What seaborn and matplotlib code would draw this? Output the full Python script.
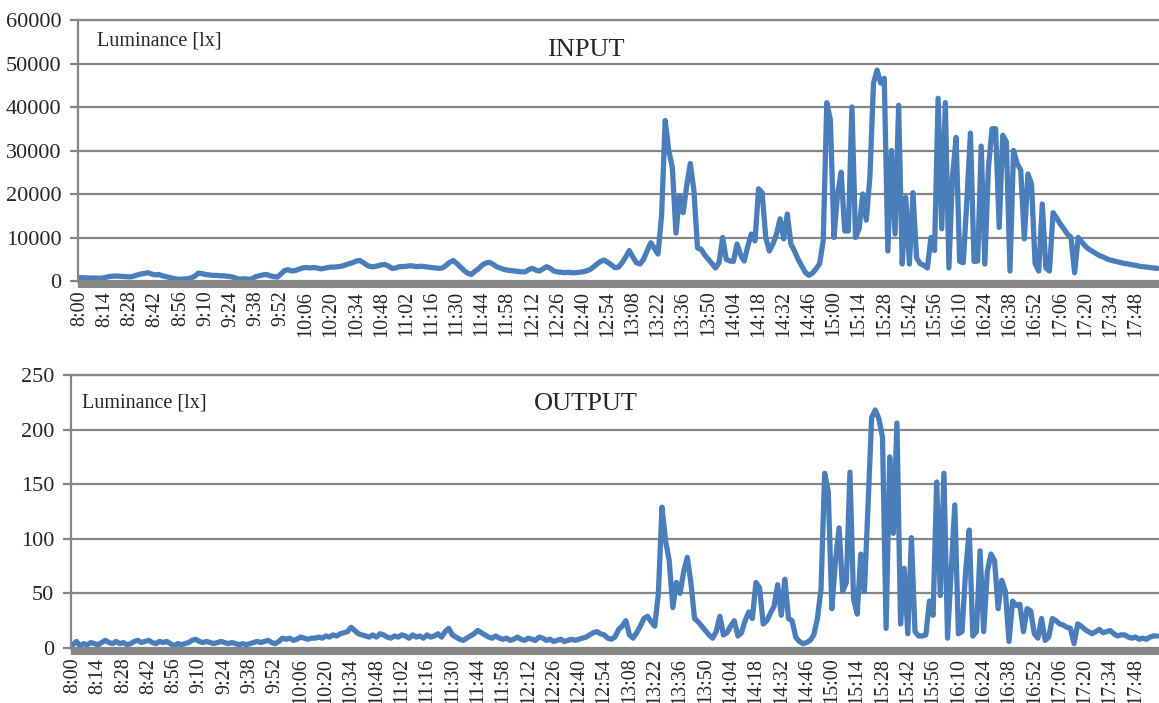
import numpy as np
import pandas as pd
import matplotlib
matplotlib.use("Agg")
import matplotlib.pyplot as plt
import seaborn as sns

# luminance every 2 minutes, 8:00 -> 18:00
input_lux = [
    800, 750, 700, 650, 700, 650, 650, 800, 1000, 1100,
    1150, 1100, 1050, 1000, 950, 1100, 1400, 1600, 1750, 1900,
    1600, 1400, 1500, 1200, 1000, 800, 600, 450, 400, 450,
    500, 700, 1100, 1800, 1700, 1500, 1400, 1300, 1300, 1200,
    1200, 1100, 1000, 800, 500, 450, 500, 400, 500, 1000,
    1200, 1400, 1500, 1200, 1000, 900, 1600, 2400, 2600, 2300,
    2400, 2700, 3000, 3100, 3000, 3100, 3000, 2800, 2900, 3100,
    3200, 3200, 3300, 3400, 3700, 4000, 4200, 4600, 4700, 4200,
    3600, 3300, 3300, 3500, 3700, 3800, 3400, 2900, 3000, 3300,
    3300, 3400, 3500, 3400, 3300, 3400, 3300, 3200, 3100, 3000,
    2900, 3000, 3600, 4300, 4700, 4000, 3200, 2400, 1800, 1500,
    2200, 2800, 3600, 4100, 4300, 3900, 3300, 3000, 2700, 2500,
    2400, 2300, 2200, 2100, 2100, 2600, 2900, 2500, 2300, 2800,
    3300, 2900, 2300, 2100, 2000, 1900, 2000, 1900, 1900, 2000,
    2100, 2300, 2600, 3200, 3900, 4500, 4800, 4300, 3700, 3100,
    3200, 4200, 5500, 7000, 5500, 4200, 3900, 5000, 7000, 8800,
    7500, 6200, 15000, 36900, 30000, 26000, 11000, 19600, 15700, 22000,
    27000, 20800, 7600, 7300, 6000, 5000, 4000, 3000, 4200, 10000,
    5000, 4600, 4500, 8500, 6000, 4600, 8000, 10800, 9200, 21200,
    20300, 10000, 6900, 8500, 10800, 14300, 9700, 15400, 8500, 6900,
    5000, 3500, 2000, 1300, 1800, 2800, 4000, 9200, 41000, 37000,
    10000, 20000, 25000, 11500, 11500, 40000, 10000, 12000, 20000, 14000,
    24000, 45500, 48500, 45500, 46600, 6900, 30000, 10800, 40400, 3900,
    19200, 3900, 20300, 5300, 4000, 3600, 3000, 10000, 7000, 42000,
    12000, 41000, 3000, 24000, 33000, 4500, 4200, 18500, 34000, 4500,
    4600, 31000, 3900, 26000, 35000, 35000, 12300, 33500, 32000, 2300,
    30000, 27000, 25500, 9700, 24600, 22300, 4000, 2300, 17700, 3000,
    2300, 15700, 14500, 13100, 12000, 10800, 10000, 1900, 10000, 9000,
    8000, 7300, 6800, 6300, 5800, 5500, 5100, 4800, 4600, 4400,
    4200, 4000, 3900, 3700, 3600, 3400, 3300, 3200, 3100, 3000, 2900,
]

output_lux = [
    3, 6, 2, 4, 3, 5, 4, 3, 5, 7,
    5, 4, 6, 4, 5, 3, 4, 6, 7, 5,
    6, 7, 5, 4, 6, 5, 6, 4, 2, 4,
    3, 4, 5, 7, 8, 6, 5, 6, 5, 4,
    5, 6, 5, 4, 5, 4, 3, 4, 3, 4,
    5, 6, 5, 6, 7, 5, 4, 6, 9, 8,
    9, 7, 8, 10, 9, 8, 9, 9, 10, 9,
    11, 10, 12, 11, 13, 14, 15, 19, 16, 13,
    12, 11, 10, 12, 10, 13, 12, 10, 9, 11,
    10, 12, 11, 9, 12, 10, 11, 9, 12, 10,
    11, 13, 10, 15, 18, 12, 10, 8, 7, 9,
    11, 13, 16, 14, 12, 10, 9, 11, 9, 8,
    9, 7, 8, 10, 8, 7, 9, 8, 7, 10,
    9, 7, 8, 6, 7, 8, 6, 7, 8, 7,
    8, 9, 10, 12, 14, 15, 13, 12, 9, 8,
    10, 17, 20, 25, 12, 9, 14, 20, 27, 29,
    24, 20, 50, 129, 98, 80, 37, 60, 50, 70,
    83, 60, 27, 24, 20, 16, 12, 9, 15, 29,
    12, 14, 20, 25, 11, 14, 25, 33, 27, 60,
    55, 22, 25, 32, 38, 58, 30, 63, 27, 25,
    10, 6, 4, 5, 7, 12, 27, 54, 160, 143,
    36, 80, 110, 52, 60, 161, 45, 31, 86, 52,
    130, 211, 218, 210, 193, 18, 175, 105, 206, 22,
    73, 13, 101, 15, 11, 11, 12, 43, 30, 152,
    48, 160, 9, 70, 131, 13, 15, 70, 108, 11,
    15, 89, 15, 70, 86, 80, 36, 62, 52, 6,
    43, 39, 40, 15, 36, 34, 13, 9, 27, 7,
    10, 27, 25, 22, 21, 19, 18, 4, 22, 20,
    17, 15, 13, 15, 17, 14, 15, 16, 13, 11,
    12, 12, 10, 9, 10, 8, 9, 8, 10, 11, 11,
]

step_min = 2
minutes = [8 * 60 + step_min * k for k in range(len(input_lux))]
time_labels = [f"{m // 60}:{m % 60:02d}" for m in minutes]
label_every = 7

df = pd.DataFrame({"idx": range(len(input_lux)),
                   "input": input_lux,
                   "output": output_lux})

sns.set_theme(style="white")
plt.rcParams["font.family"] = ["Liberation Serif", "DejaVu Serif"]

blue = "#4a7ebb"
gray = "#868686"

fig = plt.figure(figsize=(11.59, 7.03), dpi=100)
ax1 = fig.add_axes([78 / 1159, 1 - 281 / 703, 1081 / 1159, 261 / 703])
ax2 = fig.add_axes([71 / 1159, 1 - 648 / 703, 1088 / 1159, 273 / 703])

panels = [
    (ax1, "input", 60000, 10000, "INPUT", 0.018, 0.92, 0.47, 0.885),
    (ax2, "output", 250, 50, "OUTPUT", 0.010, 0.897, 0.473, 0.895),
]

for ax, col, ymax, ystep, name, lx, ly, nx, ny in panels:
    sns.lineplot(data=df, x="idx", y=col, ax=ax, color=blue, linewidth=3.8)
    ax.set_xlim(-0.5, len(df) - 0.5)
    ax.set_ylim(0, ymax)
    ax.set_xlabel("")
    ax.set_ylabel("")
    ax.set_yticks(np.arange(0, ymax + 1, ystep))
    ax.yaxis.grid(True, color=gray, linewidth=1.6)
    ax.xaxis.grid(False)
    ax.set_axisbelow(True)

    tick_pos = list(range(0, len(df), label_every))
    ax.set_xticks(tick_pos)
    ax.set_xticklabels([time_labels[p] for p in tick_pos], rotation=90)
    ax.set_xticks(range(len(df)), minor=True)
    ax.tick_params(axis="x", which="both", bottom=True, length=5, width=3,
                   color=gray, direction="out", labelsize=14.5, pad=2)
    ax.tick_params(axis="y", left=True, length=6, width=1.6, color=gray,
                   labelsize=16, pad=6)

    for side in ["top", "left"]:
        ax.spines[side].set_visible(True)
        ax.spines[side].set_color(gray)
        ax.spines[side].set_linewidth(1.6)
    ax.spines["right"].set_visible(False)
    ax.spines["bottom"].set_color(gray)
    ax.spines["bottom"].set_linewidth(2)

    ax.text(lx, ly, "Luminance [lx]", transform=ax.transAxes,
            fontsize=14.5, ha="left", va="center")
    ax.text(nx, ny, name, transform=ax.transAxes,
            fontsize=19, ha="center", va="center")

fig.savefig("out.png", dpi=100)
